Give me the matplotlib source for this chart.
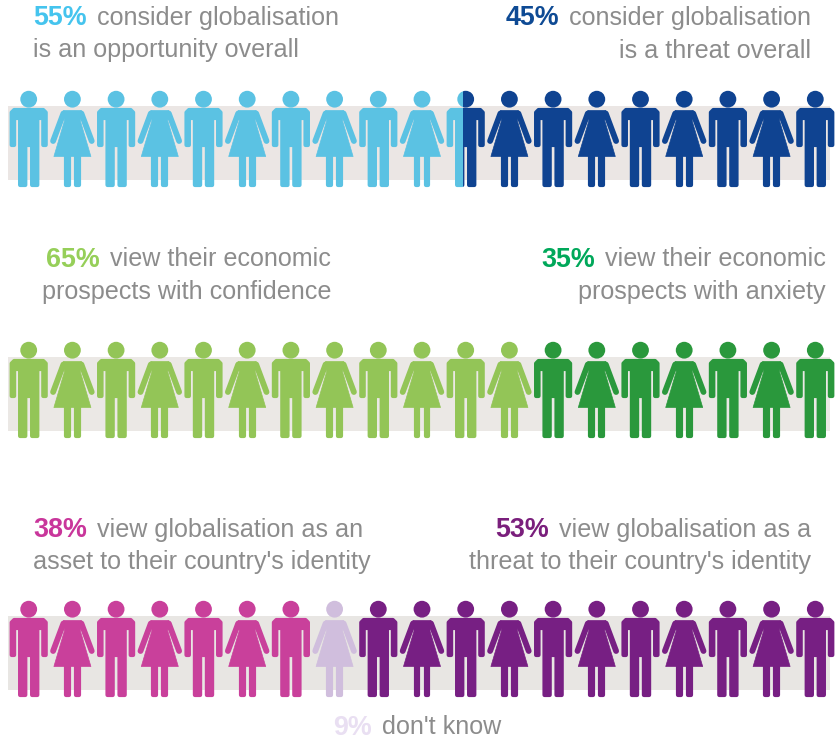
import matplotlib
matplotlib.use("Agg")
import matplotlib.pyplot as plt
from matplotlib.patches import Circle, Polygon, Rectangle

plt.rcParams['font.family'] = ['Liberation Sans', 'DejaVu Sans']

# icons per row, out of 19 figures (left, middle, right)
left_icons = [10.42, 12, 7]
middle_icons = [0, 0, 1]
right_icons = [8.58, 7, 11]

left_colors = ['#5bc2e3', '#93c557', '#c9409b']
middle_colors = ['#5bc2e3', '#93c557', '#d0bedd']
right_colors = ['#0f4391', '#2a983c', '#771f83']
band_colors = ['#ebe6e4', '#ebe8e5', '#e8e6e3']

percents = ['55%', '45%', '65%', '35%', '38%', '53%', '9%']
pct_colors = ['#45c4ee', '#0e4a94', '#96cf59', '#00a85a', '#c9369b', '#7a1f7c', '#e9dff2']
first_lines = ['consider globalisation', 'consider globalisation',
               'view their economic', 'view their economic',
               'view globalisation as an', 'view globalisation as a', "don't know"]
second_lines = ['is an opportunity overall', 'is a threat overall',
                'prospects with confidence', 'prospects with anxiety',
                "asset to their country's identity", "threat to their country's identity", '']

# text layout: anchor x, align, y of line 1, y of line 2
text_x = [33, 811, 331, 826, 33, 811, 333]
text_ha = ['left', 'right', 'right', 'right', 'left', 'right', 'left']
text_y1 = [15, 15, 257, 257, 527, 527, 725]
text_y2 = [48, 48, 289, 289, 560, 560, 0]

row_tops = [91, 342, 601]
n_icons = 19
first_center = 28.7
step = 43.7
grey = '#8c8c8c'

fig = plt.figure(figsize=(8.35, 7.40), dpi=100)
ax = fig.add_axes([0, 0, 1, 1])
ax.set_xlim(0, 835)
ax.set_ylim(740, 0)
ax.axis('off')


def shape(cx, top, pts, lw):
    return Polygon([(cx + x, top + y) for x, y in pts], closed=True), lw


def man(cx, top):
    parts = [(Circle((cx, top + 8.2), 8.4), 0)]
    outline = [(-14.5, 19), (14.5, 19), (17, 21.5), (17, 54), (14.6, 54), (14.6, 27), (8.6, 27), (8.6, 94),
               (3.4, 94), (3.4, 54), (-3.4, 54), (-3.4, 94), (-8.6, 94), (-8.6, 27),
               (-14.6, 27), (-14.6, 54), (-17, 54), (-17, 21.5)]
    parts.append(shape(cx, top, outline, 3))
    return parts


def woman(cx, top):
    parts = [(Circle((cx, top + 8.2), 8.4), 0)]
    dress = [(-9, 19.5), (9, 19.5), (8, 30), (18.5, 65.5), (-18.5, 65.5), (-8, 30)]
    parts.append(shape(cx, top, dress, 0.5))
    for side in (-1, 1):
        arm = [(side * 9, 22.5), (side * 19.3, 50)]
        parts.append(shape(cx, top, arm, 4.2))
        leg = [(side * 3.6, 64), (side * 6.4, 64), (side * 6.4, 93.5), (side * 3.6, 93.5)]
        parts.append(shape(cx, top, leg, 3))
    return parts


def draw_icon(i, top, color, clip=None):
    cx = first_center + i * step
    parts = man(cx, top) if i % 2 == 0 else woman(cx, top)
    for s, lw in parts:
        s.set(facecolor=color, edgecolor=color, linewidth=lw, joinstyle='round',
              capstyle='round', zorder=3)
        ax.add_patch(s)
        if clip is not None:
            s.set_clip_path(Rectangle((clip[0], top - 5), clip[1] - clip[0], 110, transform=ax.transData))


for r, top in enumerate(row_tops):
    ax.add_patch(Rectangle((8, top + 15), 822, 74, facecolor=band_colors[r], edgecolor='none', zorder=1))
    n1 = left_icons[r]
    n2 = n1 + middle_icons[r]
    for i in range(n_icons):
        if i + 1 <= n1:
            draw_icon(i, top, left_colors[r])
        elif i < n1:
            # figure split between the two groups
            cx = first_center + i * step
            split = cx - 19.5 + (n1 - i) * 39
            draw_icon(i, top, left_colors[r], clip=(cx - 25, split))
            draw_icon(i, top, right_colors[r], clip=(split, cx + 25))
        elif i + 1 <= n2:
            draw_icon(i, top, middle_colors[r])
        else:
            draw_icon(i, top, right_colors[r])

fig.canvas.draw()
renderer = fig.canvas.get_renderer()
fs = 18.1
fs_pct = 19.4
gap = 10

for k in range(len(percents)):
    if text_ha[k] == 'left':
        t = ax.text(text_x[k], text_y1[k], percents[k], color=pct_colors[k], fontsize=fs_pct,
                    fontweight='bold', ha='left', va='center_baseline')
        w = t.get_window_extent(renderer).width
        ax.text(text_x[k] + w + gap, text_y1[k], first_lines[k], color=grey, fontsize=fs,
                ha='left', va='center_baseline')
    else:
        t = ax.text(text_x[k], text_y1[k], first_lines[k], color=grey, fontsize=fs,
                    ha='right', va='center_baseline')
        w = t.get_window_extent(renderer).width
        ax.text(text_x[k] - w - gap, text_y1[k], percents[k], color=pct_colors[k], fontsize=fs_pct,
                fontweight='bold', ha='right', va='center_baseline')
    if second_lines[k]:
        ax.text(text_x[k], text_y2[k], second_lines[k], color=grey, fontsize=fs,
                ha=text_ha[k], va='center_baseline')

fig.savefig('out.png', dpi=100)
